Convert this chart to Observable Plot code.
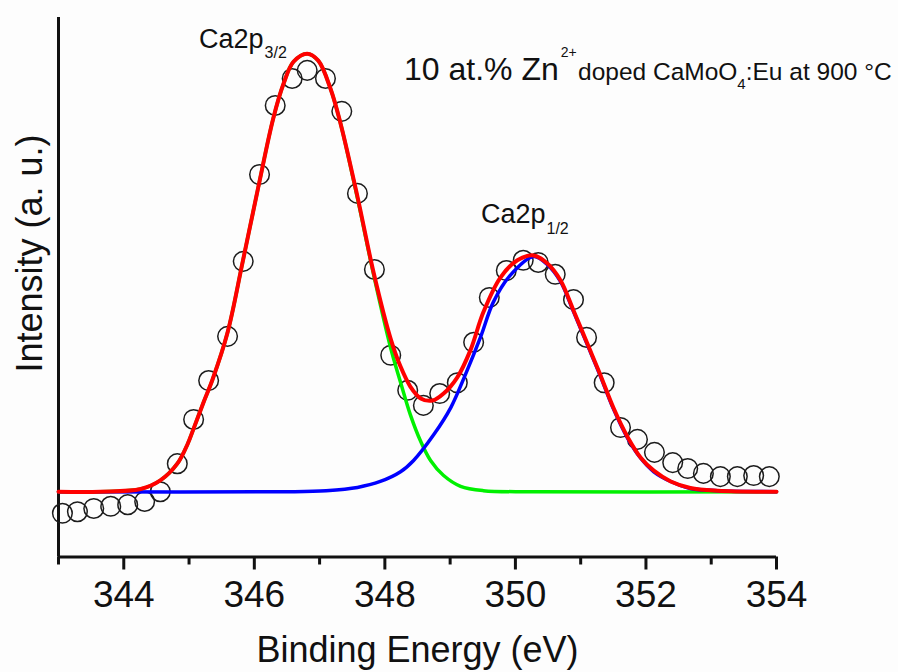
<!DOCTYPE html>
<html><head><meta charset="utf-8">
<script src="https://cdn.jsdelivr.net/npm/d3@7"></script>
<script src="https://cdn.jsdelivr.net/npm/@observablehq/plot@0.6"></script>
<style>
html,body{margin:0;padding:0;background:#fdfdfd;}
#chart svg{display:block;}
</style></head><body><div id="chart"></div>
<script>
// Measured XPS data (open circles)
const energy = [343.06,343.29,343.54,343.80,344.06,344.32,344.56,344.82,345.07,345.30,345.59,345.83,346.08,346.32,346.58,346.81,347.09,347.34,347.58,347.84,348.09,348.35,348.59,348.84,349.11,349.36,349.60,349.86,350.12,350.35,350.61,350.89,351.09,351.36,351.61,351.87,352.13,352.41,352.64,352.88,353.14,353.40,353.65,353.89];
const intensity = [8.1,8.4,9.0,9.4,9.7,10.3,12.1,17.3,25.5,32.7,40.9,54.8,70.9,83.7,88.7,90.2,88.7,82.6,67.4,53.3,37.4,30.9,28.1,30.3,32.3,39.8,48.1,53.1,55.0,54.6,52.4,47.7,40.7,32.3,24.0,21.8,19.4,17.5,16.4,15.5,14.9,14.9,15.1,14.9];

// Envelope fit (red)
const envEnergy = [343.00,343.64,344.26,344.56,344.82,344.98,345.07,345.22,345.36,345.59,345.82,346.06,346.29,346.45,346.60,346.81,346.98,347.17,347.32,347.58,347.83,348.09,348.24,348.39,348.55,348.73,348.90,349.11,349.31,349.51,349.77,350.03,350.28,350.49,350.69,350.89,351.10,351.30,351.50,351.72,351.92,352.12,352.38,352.68,353.10,354.00];
const envIntensity = [12.1,12.1,12.6,14.2,17.3,21.0,23.8,28.6,32.9,41.6,54.6,68.5,81.3,87.8,91.8,93.3,92.0,86.7,80.4,66.8,52.6,40.4,35.3,31.6,29.4,29.0,30.3,33.3,38.3,45.4,51.8,55.0,55.9,54.4,51.3,45.7,39.6,33.8,27.7,22.2,18.4,16.0,14.0,12.8,12.3,12.1];

// Ca2p3/2 component (green)
const p32Energy = [343.00,343.64,344.26,344.56,344.82,344.98,345.07,345.22,345.36,345.59,345.82,346.06,346.29,346.45,346.60,346.81,346.98,347.17,347.32,347.58,347.83,348.09,348.24,348.39,348.55,348.70,348.90,349.16,349.51,350.28,354.00];
const p32Intensity = [12.1,12.1,12.6,14.2,17.3,21.0,23.8,28.6,32.9,41.6,54.6,68.5,81.3,87.8,91.8,93.3,92.0,86.7,80.4,66.5,52.2,38.7,32.4,26.4,21.4,17.9,15.1,13.1,12.3,12.1,12.1];

// Ca2p1/2 component (blue)
const p12Energy = [343.00,346.60,347.10,347.58,347.93,348.24,348.44,348.75,349.01,349.24,349.47,349.66,349.92,350.28,350.49,350.69,350.89,351.10,351.30,351.50,351.72,351.92,352.12,352.38,352.68,353.10,354.00];
const p12Intensity = [12.1,12.1,12.3,12.9,14.0,15.8,17.9,22.7,27.7,34.0,40.9,47.2,52.2,55.7,54.2,51.1,45.5,39.4,33.6,27.5,22.0,18.3,15.8,14.0,12.7,12.3,12.1];

// Axis ticks
const majorTicks = [344,346,348,350,352,354];
const minorTicks = [343,345,347,349,351,353];

const measured = energy.map((e,i)=>({e, v:intensity[i]}));
const envelope = envEnergy.map((e,i)=>({e, v:envIntensity[i]}));
const comp32 = p32Energy.map((e,i)=>({e, v:p32Intensity[i]}));
const comp12 = p12Energy.map((e,i)=>({e, v:p12Intensity[i]}));

const FONT = "'Liberation Sans', Arial, Helvetica, sans-serif";
const INK = "#111";

const plot = Plot.plot({
  width: 898, height: 672,
  marginTop: 17, marginBottom: 115.5, marginLeft: 58, marginRight: 122,
  style: {background: "transparent", fontFamily: FONT, color: INK, overflow: "visible"},
  x: {domain: [343, 354]},
  y: {domain: [0, 100], axis: null},
  marks: [
    Plot.axisX({ticks: minorTicks, tickSize: 8, tickFormat: () => "", strokeWidth: 3, label: null}),
    Plot.axisX({ticks: majorTicks, tickSize: 13, tickPadding: 10.5, fontSize: 37, strokeWidth: 3, label: null}),
    Plot.ruleY([0], {stroke: INK, strokeWidth: 3}),
    Plot.ruleX([343], {stroke: INK, strokeWidth: 3}),
    Plot.dot(measured, {x: "e", y: "v", r: 9.8, stroke: "#1c1c1c", strokeWidth: 1.5, fill: "none"}),
    Plot.line(comp32, {x: "e", y: "v", curve: "catmull-rom", stroke: "#00f000", strokeWidth: 3.5}),
    Plot.line(comp12, {x: "e", y: "v", curve: "catmull-rom", stroke: "#0000ff", strokeWidth: 3.5}),
    Plot.line(envelope, {x: "e", y: "v", curve: "catmull-rom", stroke: "#ff0000", strokeWidth: 4})
  ]
});
document.getElementById("chart").appendChild(plot);

const svg = d3.select(plot);
const sx = plot.scale("x"), sy = plot.scale("y");

// axis titles
svg.append("text").attr("x", 417.5).attr("y", 662).attr("text-anchor", "middle")
  .attr("font-family", FONT).attr("font-size", 36).attr("fill", INK).text("Binding Energy (eV)");
svg.append("text").attr("transform", "translate(42,253.5) rotate(-90)").attr("text-anchor", "middle")
  .attr("font-family", FONT).attr("font-size", 36).attr("fill", INK).text("Intensity (a. u.)");

// peak labels
function peakLabel(e, v, main, sub, subDy) {
  const t = svg.append("text").attr("x", sx.apply(e)).attr("y", sy.apply(v)).attr("text-anchor", "start")
    .attr("font-family", FONT).attr("font-size", 27).attr("fill", INK);
  t.append("tspan").text(main);
  t.append("tspan").attr("font-size", 16).attr("dx", 1).attr("dy", subDy).text(sub);
}
peakLabel(345.16, 94.3, "Ca2p", "3/2", 10);
peakLabel(349.48, 61.8, "Ca2p", "1/2", 11);

// sample title
const title = svg.append("text").attr("x", 404).attr("y", 80).attr("text-anchor", "start")
  .attr("font-family", FONT).attr("fill", INK);
title.append("tspan").attr("font-size", 32).text("10 at.% Zn");
title.append("tspan").attr("font-size", 14).attr("dx", 2).attr("dy", -23).text("2+");
title.append("tspan").attr("font-size", 24.5).attr("x", 578).attr("dy", 23).text("doped CaMoO");
title.append("tspan").attr("font-size", 15).attr("dy", 9).text("4");
title.append("tspan").attr("font-size", 24.5).attr("dy", -9).text(":Eu at 900 °C");
</script>
</body></html>
